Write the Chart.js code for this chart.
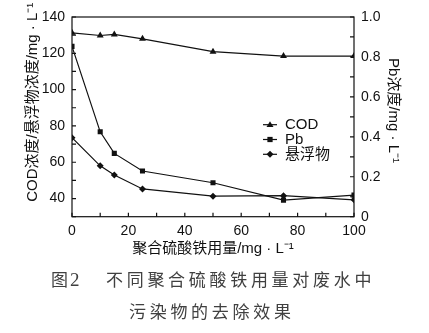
<!DOCTYPE html>
<html><head><meta charset="utf-8">
<script src="https://cdn.jsdelivr.net/npm/chart.js@4.4.1/dist/chart.umd.min.js"></script>
<style>
html,body{margin:0;padding:0;background:#fff;}
#wrap{position:relative;width:429px;height:333px;overflow:hidden;background:#fff;}
#c{position:absolute;left:0;top:0;}
.cap{position:absolute;font-family:"Noto Sans CJK SC",sans-serif;font-size:17px;color:#404040;white-space:nowrap;line-height:17px;}
.num{font-family:"Liberation Serif","DejaVu Serif",serif;font-size:19px;}
</style></head><body>
<div id="wrap">
<canvas id="c" width="429" height="333" style="width:429px;height:333px;"></canvas>
<div class="cap" style="left:51px;top:270px;">图<span class="num" style="margin-left:2px;">2</span></div>
<div class="cap" style="left:106px;top:270px;letter-spacing:3.7px;">不同聚合硫酸铁用量对废水中</div>
<div class="cap" style="left:129px;top:302px;letter-spacing:3.7px;">污染物的去除效果</div>
</div>
<script>
// ---- data ----
const doses = [0, 10, 15, 25, 50, 75, 100];
const codValues = [131.3, 129.8, 130.4, 128.0, 120.9, 118.5, 118.5];
const pbValues = [0.853, 0.425, 0.317, 0.229, 0.170, 0.083, 0.108];
const ssValues = [73.5, 58.0, 53.0, 45.3, 41.3, 41.6, 39.3];
const seriesNames = ['COD', 'Pb', '悬浮物'];
const xTickLabels = [0, 20, 40, 60, 80, 100];
const leftTickLabels = [40, 60, 80, 100, 120, 140];
const rightTickLabels = [0, 0.2, 0.4, 0.6, 0.8, 1.0];
const xTitle = '聚合硫酸铁用量/mg · L⁻¹';
const leftTitle = '       COD浓度/悬浮物浓度/mg · L⁻¹';
const rightTitle = 'Pb浓度/mg · L⁻¹   ';

const zip = (xs, ys) => xs.map((x, i) => ({x: x, y: ys[i]}));
const has = (arr, v) => arr.some(a => Math.abs(a - v) < 1e-6);

const tickFont = {family: '"Liberation Sans", Arial, sans-serif', size: 14};
const titleFont = {family: '"Liberation Sans", "Noto Sans CJK SC", sans-serif', size: 15};
const INK = '#111';

function drawMarker(ctx, style, x, y, r) {
  ctx.beginPath();
  if (style === 'triangle') {
    const h = r * 1.6;
    ctx.moveTo(x, y - h * 0.6);
    ctx.lineTo(x + r * 1.0, y + h * 0.4);
    ctx.lineTo(x - r * 1.0, y + h * 0.4);
    ctx.closePath();
  } else if (style === 'rect') {
    const s = r * 0.75;
    ctx.rect(x - s, y - s, 2 * s, 2 * s);
  } else {
    ctx.moveTo(x, y - r);
    ctx.lineTo(x + r, y);
    ctx.lineTo(x, y + r);
    ctx.lineTo(x - r, y);
    ctx.closePath();
  }
  ctx.fill();
}

const framePlugin = {
  id: 'frame',
  beforeDatasetsDraw(chart) {
    const {ctx, chartArea: a} = chart;
    ctx.save();
    ctx.strokeStyle = INK;
    ctx.lineWidth = 1.2;
    ctx.strokeRect(a.left, a.top, a.right - a.left, a.bottom - a.top);
    const L = 4;
    ctx.beginPath();
    const xs = chart.scales.x;
    xs.ticks.forEach((t, i) => { const p = xs.getPixelForTick(i); ctx.moveTo(p, a.bottom); ctx.lineTo(p, a.bottom - L); });
    const yl = chart.scales.y;
    yl.ticks.forEach((t, i) => { const p = yl.getPixelForTick(i); ctx.moveTo(a.left, p); ctx.lineTo(a.left + L, p); });
    const yr = chart.scales.y1;
    yr.ticks.forEach((t, i) => { const p = yr.getPixelForTick(i); ctx.moveTo(a.right, p); ctx.lineTo(a.right - L, p); });
    ctx.stroke();
    ctx.restore();
  },
  afterDraw(chart) {
    const {ctx} = chart;
    ctx.save();
    ctx.font = '15px "Liberation Sans", "Noto Sans CJK SC", sans-serif';
    ctx.textBaseline = 'middle';
    chart.data.datasets.forEach((ds, i) => {
      const y = 124.7 + i * 14.8;
      ctx.strokeStyle = INK; ctx.fillStyle = INK; ctx.lineWidth = 1.2;
      ctx.beginPath(); ctx.moveTo(263, y); ctx.lineTo(277, y); ctx.stroke();
      drawMarker(ctx, ds.pointStyle, 270, y, 3.5);
      ctx.fillText(ds.label, 285, y + 0.5);
    });
    ctx.restore();
  }
};

const common = {
  borderColor: INK, backgroundColor: INK, pointBackgroundColor: INK, pointBorderColor: INK,
  borderWidth: 1.2, pointRadius: 3.5, pointBorderWidth: 0, tension: 0, fill: false
};

new Chart(document.getElementById('c'), {
  type: 'line',
  data: {
    datasets: [
      Object.assign({label: seriesNames[0], data: zip(doses, codValues), yAxisID: 'y', pointStyle: 'triangle'}, common, {pointRadius: 4}),
      Object.assign({label: seriesNames[1], data: zip(doses, pbValues), yAxisID: 'y1', pointStyle: 'rect'}, common, {pointRadius: 3.6}),
      Object.assign({label: seriesNames[2], data: zip(doses, ssValues), yAxisID: 'y', pointStyle: 'rectRot'}, common)
    ]
  },
  options: {
    responsive: false,
    animation: false,
    devicePixelRatio: 1,
    layout: {padding: {top: 17, left: 0, right: 0, bottom: 0}},
    plugins: {legend: {display: false}, tooltip: {enabled: false}},
    scales: {
      x: {
        type: 'linear', min: 0, max: 100,
        grid: {display: false, drawTicks: false},
        border: {display: false},
        ticks: {stepSize: 10, padding: 6, color: INK, font: tickFont, maxRotation: 0, autoSkip: false,
          callback: v => has(xTickLabels, v) ? String(v) : ''},
        title: {display: true, text: xTitle, color: INK, font: titleFont, padding: {top: 0, bottom: 75}},
        afterFit: s => { s.height = 333 - 216.7; }
      },
      y: {
        type: 'linear', position: 'left', min: 30, max: 140,
        grid: {display: false, drawTicks: false},
        border: {display: false},
        ticks: {stepSize: 10, padding: 7, color: INK, font: tickFont, autoSkip: false,
          callback: v => has(leftTickLabels, v) ? String(v) : ''},
        title: {display: true, text: leftTitle, color: INK, font: titleFont, padding: {top: 24, bottom: 0}},
        afterFit: s => { s.width = 72; }
      },
      y1: {
        type: 'linear', position: 'right', min: 0, max: 1,
        grid: {display: false, drawTicks: false},
        border: {display: false},
        ticks: {stepSize: 0.1, padding: 7, color: INK, font: tickFont, autoSkip: false,
          callback: v => has(rightTickLabels, v) ? (Math.abs(v) < 1e-9 ? '0' : Number(v).toFixed(1)) : ''},
        title: {display: true, text: rightTitle, color: INK, font: titleFont, padding: {top: 26.5, bottom: 0}},
        afterFit: s => { s.width = 75; }
      }
    }
  },
  plugins: [framePlugin]
});
</script>
</body></html>
